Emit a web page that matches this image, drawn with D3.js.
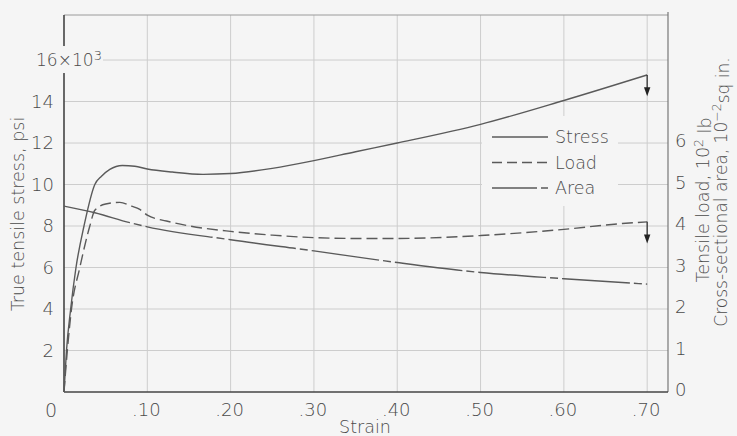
<!DOCTYPE html>
<html><head><meta charset="utf-8">
<script src="https://cdn.jsdelivr.net/npm/d3@7"></script>
<style>
html,body{margin:0;padding:0;background:#f5f5f5;}
svg{display:block;font-family:"DejaVu Sans",sans-serif;}
</style></head><body>
<svg id="c" width="737" height="436"></svg>
<script>
// ---- data ----
const stressStrain = [0, 0.003, 0.008, 0.0144, 0.024, 0.037, 0.045, 0.055, 0.07, 0.085, 0.10, 0.13, 0.167, 0.20, 0.25, 0.30, 0.35, 0.40, 0.50, 0.60, 0.70];
const stressValues = [0, 2, 4, 6, 8, 10, 10.4, 10.73, 10.92, 10.88, 10.75, 10.6, 10.49, 10.53, 10.78, 11.15, 11.58, 12.0, 12.9, 14.05, 15.28]; // 10^3 psi
const loadStrain = [0, 0.004, 0.009, 0.019, 0.031, 0.037, 0.05, 0.067, 0.081, 0.091, 0.10, 0.123, 0.151, 0.20, 0.25, 0.30, 0.35, 0.40, 0.50, 0.60, 0.67, 0.70];
const loadValues = [0, 1.0, 2.0, 3.0, 4.0, 4.38, 4.53, 4.57, 4.48, 4.40, 4.26, 4.12, 4.0, 3.87, 3.78, 3.72, 3.70, 3.70, 3.77, 3.92, 4.06, 4.10]; // 10^2 lb
const areaStrain = [0, 0.037, 0.079, 0.10, 0.20, 0.30, 0.40, 0.50, 0.60, 0.70];
const areaValues = [4.48, 4.32, 4.08, 3.98, 3.67, 3.40, 3.12, 2.88, 2.73, 2.60]; // 10^-2 sq in
const xTicks = [0.10, 0.20, 0.30, 0.40, 0.50, 0.60, 0.70];
const xTickLabels = [".10", ".20", ".30", ".40", ".50", ".60", ".70"];
const leftTicks = [2, 4, 6, 8, 10, 12, 14, 16];
const rightTicks = [0, 1, 2, 3, 4, 5, 6];
const legendItems = ["Stress", "Load", "Area"];
const stressArrow = {strain: 0.70, from: 15.28, to: 14.25};
const loadArrow = {strain: 0.70, from: 4.10, to: 3.58};

// ---- layout ----
const W = 737, H = 436;
const L = 64, R = 668, T = 15, B = 392;
const bg = "#f5f5f5", ink = "#5a5a5a", grid = "#cdcdcd", txt = "#4a4a4a";
const FW = 200;

const x = d3.scaleLinear().domain([0, 0.725]).range([L, R]);
const y = d3.scaleLinear().domain([0, 18.17]).range([B, T]);
const y2 = d3.scaleLinear().domain([0, 18.17 / 2]).range([B, T]);

const svg = d3.select("#c");
svg.append("rect").attr("width", W).attr("height", H).attr("fill", bg);

// grid
svg.append("g").selectAll("line").data(leftTicks).join("line")
  .attr("x1", L).attr("x2", R).attr("y1", d => y(d)).attr("y2", d => y(d))
  .attr("stroke", grid).attr("stroke-width", 1);
svg.append("g").selectAll("line").data(xTicks).join("line")
  .attr("x1", d => x(d)).attr("x2", d => x(d)).attr("y1", T).attr("y2", B)
  .attr("stroke", grid).attr("stroke-width", 1);

// frame
svg.append("line").attr("x1", L).attr("x2", R).attr("y1", T).attr("y2", T).attr("stroke", "#9a9a9a").attr("stroke-width", 1);
svg.append("line").attr("x1", R).attr("x2", R).attr("y1", T - 3).attr("y2", B).attr("stroke", "#777").attr("stroke-width", 1.2);
svg.append("line").attr("x1", L).attr("x2", L).attr("y1", T).attr("y2", B).attr("stroke", "#444").attr("stroke-width", 1.6);
svg.append("line").attr("x1", L).attr("x2", R).attr("y1", B).attr("y2", B).attr("stroke", "#444").attr("stroke-width", 1.6);

// legend background (covers grid)
svg.append("rect").attr("x", 482).attr("y", 116).attr("width", 136).attr("height", 90).attr("fill", bg);

// curves
const lineL = d3.line().x(d => x(d[0])).y(d => y(d[1])).curve(d3.curveMonotoneX);
const lineR = d3.line().x(d => x(d[0])).y(d => y2(d[1])).curve(d3.curveMonotoneX);
svg.append("path").datum(d3.zip(stressStrain, stressValues)).attr("d", lineL)
  .attr("fill", "none").attr("stroke", ink).attr("stroke-width", 1.4);
svg.append("path").datum(d3.zip(loadStrain, loadValues)).attr("d", lineR)
  .attr("fill", "none").attr("stroke", ink).attr("stroke-width", 1.4).attr("stroke-dasharray", "11,5");
svg.append("path").datum(d3.zip(areaStrain, areaValues)).attr("d", lineR)
  .attr("fill", "none").attr("stroke", ink).attr("stroke-width", 1.4).attr("stroke-dasharray", "68,4,8,4");

// arrows
function arrow(a, sc) {
  const ax = x(a.strain), y0 = sc(a.from), y1 = sc(a.to);
  svg.append("line").attr("x1", ax).attr("x2", ax).attr("y1", y0).attr("y2", y1 - 6)
    .attr("stroke", "#333").attr("stroke-width", 1.3);
  svg.append("path").attr("d", `M${ax - 3.2},${y1 - 9}L${ax + 3.2},${y1 - 9}L${ax},${y1}Z`).attr("fill", "#222");
}
arrow(stressArrow, y);
arrow(loadArrow, y2);

// left tick labels
svg.append("g").selectAll("text").data(leftTicks.filter(d => d < 16)).join("text")
  .attr("x", 54).attr("y", d => y(d)).attr("dy", "0.36em").attr("text-anchor", "end")
  .attr("font-size", 18).attr("font-weight", FW).attr("fill", txt).text(d => d);
// 16x10^3 label
svg.append("rect").attr("x", 35).attr("y", y(16) - 14).attr("width", 68).attr("height", 27).attr("fill", bg);
const t16 = svg.append("text").attr("x", 36).attr("y", y(16)).attr("dy", "0.36em")
  .attr("font-size", 17).attr("font-weight", FW).attr("fill", txt).attr("textLength", 66);
t16.append("tspan").text("16×10");
t16.append("tspan").attr("dy", "-0.5em").attr("font-size", 13).text("3");

// bottom tick labels
svg.append("g").selectAll("text").data(xTicks).join("text")
  .attr("x", (d, i) => x(d) - 1).attr("y", 416).attr("text-anchor", "middle")
  .attr("font-size", 18).attr("font-weight", FW).attr("fill", txt).text((d, i) => xTickLabels[i]);
svg.append("text").attr("x", 51).attr("y", 417).attr("text-anchor", "middle")
  .attr("font-size", 19).attr("font-weight", FW).attr("fill", txt).text("0");

// right tick labels
svg.append("g").selectAll("text").data(rightTicks).join("text")
  .attr("x", 675).attr("y", d => y2(d) - 2).attr("dy", "0.36em").attr("text-anchor", "start")
  .attr("font-size", 18).attr("font-weight", FW).attr("fill", txt).text(d => d);

// axis titles
svg.append("text").attr("transform", "translate(24,214) rotate(-90)").attr("text-anchor", "middle")
  .attr("font-size", 17.5).attr("font-weight", FW).attr("fill", txt).text("True tensile stress, psi");
const rt1 = svg.append("text").attr("transform", "translate(709,200) rotate(-90)").attr("text-anchor", "middle")
  .attr("font-size", 17.5).attr("font-weight", FW).attr("fill", txt);
rt1.append("tspan").text("Tensile load, 10");
rt1.append("tspan").attr("dy", "-0.45em").attr("font-size", 12.5).text("2");
rt1.append("tspan").attr("dy", "0.45em").text(" lb");
const rt2 = svg.append("text").attr("transform", "translate(727,192) rotate(-90)").attr("text-anchor", "middle")
  .attr("font-size", 17).attr("font-weight", FW).attr("fill", txt);
rt2.append("tspan").text("Cross-sectional area, 10");
rt2.append("tspan").attr("dy", "-0.45em").attr("font-size", 12.5).text("−2");
rt2.append("tspan").attr("dy", "0.45em").text("sq in.");
svg.append("text").attr("x", 365).attr("y", 433).attr("text-anchor", "middle")
  .attr("font-size", 17.5).attr("font-weight", FW).attr("fill", txt).text("Strain");

// legend
const lg = svg.append("g");
const dashes = [null, "10,5", "45,4,7,0"];
legendItems.forEach((name, i) => {
  const ly = 137 + i * 25.5;
  lg.append("line").attr("x1", 492).attr("x2", 548).attr("y1", ly).attr("y2", ly)
    .attr("stroke", ink).attr("stroke-width", 1.3).attr("stroke-dasharray", dashes[i]);
  lg.append("text").attr("x", 555).attr("y", ly).attr("dy", "0.36em")
    .attr("font-size", 17.5).attr("font-weight", FW).attr("fill", txt).text(name);
});
</script>
</body></html>
